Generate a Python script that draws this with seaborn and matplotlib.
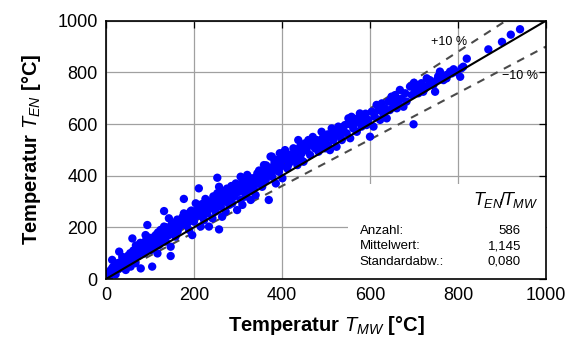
import matplotlib
matplotlib.use("Agg")
import matplotlib.pyplot as plt
import seaborn as sns
import pandas as pd

# ---- data (point groups by region) ----
mw_low = [3,11,18,14,30,26,37,41,49,45,56,64,60,71,67,79,79,86,90,94,94,102,105,109,113,117,121,124,128,132,
          136,139,143,147,147,151,155,158,162,132,177,177,181,185,189,192,196,200,204,208,211,215,219,223,227,230,234,238,242,246,
          249,253,253,257,257,261,264,268,272,276,280,283,287,291,295,298,302,306,306,310,314,317,321,325,329,333,336,340,344,348,
          352,355,359,363,367,370,374,378,382,386,389,393,397,401,405,408,412,420,427,435,442]
en_low = [15,35,48,74,106,61,86,54,74,35,48,86,157,112,61,41,125,99,170,151,209,112,48,125,170,99,132,190,164,203,
          145,177,235,125,89,183,209,164,196,263,310,254,209,235,190,261,170,222,293,248,351,203,274,228,299,254,203,280,235,312,
          261,392,332,357,192,280,241,306,261,332,287,345,293,319,370,267,338,396,306,287,357,319,403,338,306,377,351,325,409,370,
          396,357,441,383,422,306,474,396,441,370,461,415,435,390,474,493,428,454,480,441,467]

mw_mid = [377,388,395,407,411,414,418,426,430,437,441,445,449,452,456,460,464,467,471,475,479,483,486,490,494,498,502,505,509,513,
          517,520,524,528,532,536,539,543,547,551,555,558,562,566,570,574,577,581,585,589,592,596,600,604,608,611,615,619,623,627,
          630,634,638,642,645,649,653,657,661,664,668,672,676,680,683,691,695,699,702,706,710,714,717,721,725,729,733,736,744,748,
          752,759,763,767,774,782,786,805,808,812]
en_mid = [474,454,487,499,461,441,480,506,467,538,512,487,454,525,499,538,480,519,532,506,538,493,519,570,525,506,545,519,499,583,
          538,564,512,590,551,538,577,596,564,622,545,628,583,603,570,609,641,590,616,635,596,616,551,648,590,628,674,654,616,680,
          641,661,622,687,654,706,674,712,661,687,732,699,667,719,687,745,712,599,732,751,719,745,758,725,738,777,751,764,751,725,
          770,803,783,770,790,803,796,783,816,822]

mw_top = [820,869,900,920,941,653,700,721,736,755,774,790,798]
en_top = [853,889,918,946,967,693,760,745,770,785,777,812,800]

mw_fill = [5,8,12,16,20,22,24,28,32,34,38,42,46,50,52,55,58,62,66,68,72,75,78,82,85,88,92,96,98,100,
           104,108,112,115,118,122,126,130,134,138,142,146,150,154,158,162,166,170,174,178,182,186,190,194,198,
           205,210,214,218,222,226,230,236,240,244,248,252,256,262,266,270,275,280,285,290,296,300,305,310,316,320,326,332,338,342,
           348,354,358,364,368,372,380,386,392,398,
           420,432,446,458,470,480,492,504,515,526,540,552,565,578,590]
en_fill = [20,8,28,22,40,18,50,38,65,45,70,80,58,90,68,100,75,110,95,130,88,120,140,105,130,115,135,125,160,140,
           150,135,145,160,180,150,175,160,185,200,170,195,215,185,220,230,200,215,240,225,250,220,240,265,245,
           260,275,245,290,265,310,280,300,275,320,290,305,330,315,340,300,350,320,360,335,345,365,340,375,350,380,365,390,370,395,
           420,385,410,440,400,430,420,445,425,460,
           470,495,510,520,550,525,545,560,555,575,590,600,620,630,640]

mw_fill2 = [10,15,26,35,44,53,61,70,77,84,91,99,106,114,120,127,135,141,149,156,163,170,178,185,193,201,209,216,224,232,
            239,247,255,263,271,279,287,295,303,311,319,327,335,344,352,361,370,383,396,410]
en_fill2 = [30,45,55,60,80,85,95,105,118,110,150,128,160,140,165,155,180,172,190,205,185,210,230,215,250,235,270,255,285,275,
            300,285,310,300,325,310,345,330,355,340,370,360,385,400,390,415,420,455,445,480]

ref_x = [0, 1000]
ref_factors = [1.0, 1.1, 0.9]
ref_labels = ["", "+10 %", "\u221210 %"]
stat_names = ["Anzahl:", "Mittelwert:", "Standardabw.:"]
stat_values = ["586", "1,145", "0,080"]

sns.set_theme(style="white")
plt.rcParams["font.family"] = ["Liberation Sans", "DejaVu Sans"]
plt.rcParams["text.color"] = "black"
plt.rcParams["axes.labelcolor"] = "black"
plt.rcParams["mathtext.fontset"] = "custom"
plt.rcParams["mathtext.rm"] = "Liberation Sans"
plt.rcParams["mathtext.it"] = "Liberation Sans:italic"
plt.rcParams["mathtext.bf"] = "Liberation Sans:bold"

fig = plt.figure(figsize=(5.71, 3.40), dpi=100)
ax = fig.add_axes([0.1856, 0.1794, 0.7706, 0.7597])

df = pd.DataFrame({
    "x": mw_low + mw_mid + mw_top + mw_fill + mw_fill2,
    "y": en_low + en_mid + en_top + en_fill + en_fill2,
})

ax.grid(True, color="#a0a0a0", linewidth=0.9, zorder=0)

for f in ref_factors:
    ys = [f * v for v in ref_x]
    if f == 1.0:
        ax.plot(ref_x, ys, color="black", lw=1.5, zorder=4)
    else:
        ax.plot(ref_x, ys, color="#4a4a4a", lw=1.5, ls=(0, (3.8, 3.4)), zorder=2)

sns.scatterplot(data=df, x="x", y="y", ax=ax, color="#0000ff", s=36,
                edgecolor="none", linewidth=0, zorder=3, legend=False)

ax.text(780, 917, ref_labels[1], fontsize=9, ha="center", va="center", zorder=6)
ax.text(941, 786, ref_labels[2], fontsize=9, ha="center", va="center", zorder=6)

# statistics box
ax.add_patch(plt.Rectangle((0.55, 0.0), 0.45, 0.368, transform=ax.transAxes,
                           facecolor="white", edgecolor="none", zorder=5))
ax.text(0.982, 0.306, r"$T_{EN}\!/\!T_{MW}$", transform=ax.transAxes,
        fontsize=13, ha="right", va="center", zorder=6)
for i, (n, v) in enumerate(zip(stat_names, stat_values)):
    yy = 0.186 - i * 0.06
    ax.text(0.577, yy, n, transform=ax.transAxes, fontsize=9.5, ha="left", va="center", zorder=6)
    ax.text(0.943, yy, v, transform=ax.transAxes, fontsize=9.5, ha="right", va="center", zorder=6)

ax.set_xlim(0, 1000)
ax.set_ylim(0, 1000)
ax.set_xticks([0, 200, 400, 600, 800, 1000])
ax.set_yticks([0, 200, 400, 600, 800, 1000])
ax.tick_params(direction="in", length=5, width=0.9, top=True, right=True,
               labelsize=13, colors="black", pad=6)
for sp in ax.spines.values():
    sp.set_color("black")
    sp.set_linewidth(1.2)
    sp.set_zorder(7)

ax.set_xlabel(r"Temperatur $T_{MW}$ [°C]", fontsize=14.5, fontweight="bold", labelpad=7)
ax.set_ylabel(r"Temperatur $T_{EN}$ [°C]", fontsize=14.5, fontweight="bold", labelpad=10)

fig.savefig("out.png", dpi=100)
